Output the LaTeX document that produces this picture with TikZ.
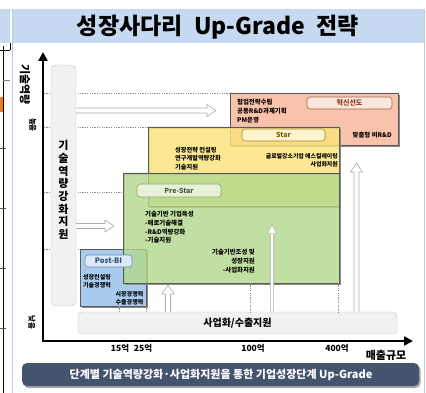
\documentclass[tikz,border=0pt]{standalone}
\usepackage{fontspec}
\setmainfont{Noto Sans CJK KR}
\usetikzlibrary{arrows.meta,calc}
\definecolor{titlebg}{HTML}{C6D9F1}
\definecolor{panelc}{HTML}{B9CDE8}
\definecolor{pinkc}{HTML}{F8C3AA}
\definecolor{yellowc}{HTML}{FCE27C}
\definecolor{greenc}{HTML}{B3D88C}
\definecolor{bluec}{HTML}{A8CBEE}
\definecolor{boxline}{HTML}{5A5A5A}
\definecolor{shadowc}{HTML}{8A8A8A}
\definecolor{barfill}{HTML}{F1F1F1}
\definecolor{barline}{HTML}{C8C8C8}
\definecolor{bannerc}{HTML}{44546E}
\definecolor{dashc}{HTML}{8F8F8F}
\definecolor{arrowc}{HTML}{ADADAD}
\definecolor{fragorange}{HTML}{F07820}
\definecolor{pinkpillf}{HTML}{FCE7DC}
\definecolor{pinkpilld}{HTML}{A0664A}
\definecolor{pinkpillt}{HTML}{8A3B1E}
\definecolor{starpillf}{HTML}{FDF3CC}
\definecolor{starpilld}{HTML}{A08A3A}
\definecolor{starpillt}{HTML}{7A5A12}
\definecolor{prepillf}{HTML}{E6F1D8}
\definecolor{prepilld}{HTML}{8AA870}
\definecolor{prepillt}{HTML}{4E5A44}
\definecolor{postpillf}{HTML}{DCEAF8}
\definecolor{postpilld}{HTML}{6D8FB8}
\definecolor{postpillt}{HTML}{2E4C78}

\newcommand{\mkbox}[6][]{%
  \fill[shadowc, even odd rule] (#3+1.8,#4+1.8) rectangle (#5+1.8,#6+1.8) (#3,#4) rectangle (#5,#6);
  \node[box, #1, minimum width={#5-#3}, minimum height={#6-#4}] (#2) at ({(#3+#5)/2},{(#4+#6)/2}) {};}
\newcommand{\harrow}[2]{\draw[hollow] ($(#1)+(0,-2.5)$) -- ($(#2)+(-9,-2.5)$) -- ($(#2)+(-9,-6)$) -- (#2) -- ($(#2)+(-9,6)$) -- ($(#2)+(-9,2.5)$) -- ($(#1)+(0,2.5)$);}
\newcommand{\varrow}[2]{\draw[hollow] ($(#1)+(-2.5,0)$) -- ($(#2)+(-2.5,9)$) -- ($(#2)+(-6,9)$) -- (#2) -- ($(#2)+(6,9)$) -- ($(#2)+(2.5,9)$) -- ($(#1)+(2.5,0)$);}

\tikzset{
  box/.style={draw=boxline, line width=0.8pt, inner sep=0pt, outer sep=0pt},
  pill/.style={rounded corners=3pt, line width=0.6pt, inner sep=0pt, font=\fontsize{7}{8}\selectfont\bfseries},
  txt/.style={inner sep=0pt, align=left},
  dashln/.style={draw=dashc, line width=0.5pt, dash pattern=on 1.2pt off 1.2pt},
  hollow/.style={draw=arrowc, fill=white, line width=0.6pt},
  axlab/.style={inner sep=0pt, font=\fontsize{8.5}{9}\selectfont\bfseries},
}

\begin{document}
\begin{tikzpicture}[x=1pt,y=-1pt]
\useasboundingbox (0,0) rectangle (426,393);
\fill[white] (0,0) rectangle (426,393);

% fragment of neighbouring slide
\fill[titlebg] (0,9) rectangle (10,43);
\draw[black, line width=0.7pt] (3,46) -- (3,393);
\draw[black, line width=0.6pt] (0,50) -- (10,50);
\draw[black, line width=0.6pt] (10,43) -- (10,50);
\draw[gray, line width=0.5pt] (3,80) -- (10,80);
\fill[fragorange] (0,97) rectangle (3,112);
\foreach \yy in {148,208,268,328} \draw[gray!70!black, line width=0.5pt] (0,\yy) -- (6,\yy);

% panel
\fill[titlebg] (12,9) rectangle (424,43);
\draw[panelc, line width=1pt] (12,9) -- (12,393);
\draw[panelc, line width=1pt] (424,9) -- (424,393);
\node[inner sep=0pt, font=\fontsize{23}{25}\selectfont\bfseries] (title) at (218,27) {성장사다리\hspace{0.5em}Up-Grade\hspace{0.5em}전략};

% guide lines
\draw[dashln] (44,93) -- (230,93);
\draw[dashln] (44,127) -- (148,127);
\draw[dashln] (44,192) -- (123,192);
\draw[dashln] (44,249) -- (80,249);

% left bar
\node[draw=barline, fill=barfill, rounded corners=5pt, minimum width=25pt, minimum height=241pt, inner sep=0pt] (lbar) at (63.5,185.5) {};
\node[txt, align=center, font=\fontsize{11}{12.7}\selectfont\bfseries] (lbartxt) at (63.5,190) {기\\술\\역\\량\\강\\화\\지\\원};

% bottom bar
\node[draw=barline, fill=barfill, rounded corners=4pt, minimum width=319pt, minimum height=22pt, inner sep=0pt] (bbar) at (237.5,323) {};
\node[inner sep=0pt, font=\fontsize{10}{11}\selectfont\bfseries] (bbartxt) at (237.5,323) {사업화/수출지원};

% boxes
\mkbox[fill=pinkc]{pink}{230}{93}{398}{145}
\mkbox[fill=yellowc, fill opacity=0.82]{yellow}{148}{127}{339}{206}
\mkbox[fill=bluec]{blue}{80}{249}{146}{306}
\mkbox[fill=greenc, fill opacity=0.8]{green}{123}{173}{339}{283}

% pills
\node[pill, draw=pinkpilld, fill=pinkpillf, text=pinkpillt, minimum width=85pt, minimum height=12pt] (pinkpill) at (349.5,103) {혁신선도};
\node[pill, draw=starpilld, fill=starpillf, text=starpillt, minimum width=83pt, minimum height=12pt] (starpill) at (283.5,135) {Star};
\node[pill, draw=prepilld, fill=prepillf, text=prepillt, minimum width=84pt, minimum height=13pt] (prepill) at (179,190.5) {Pre-Star};
\node[pill, draw=postpilld, fill=postpillf, text=postpillt, minimum width=47pt, minimum height=12pt, font=\fontsize{7.5}{8}\selectfont\bfseries] (postpill) at (108.5,261) {Post-BI};

% box texts
\node[txt, anchor=north west, font=\fontsize{6.4}{9.3}\selectfont\bfseries] (pinkl) at (237,98.5) {협업전략수립\\공동R\&D과제기획\\PM운영};
\node[txt, anchor=east, font=\fontsize{6.4}{8}\selectfont\bfseries] (pinkr) at (392,135) {맞춤형 비R\&D};
\node[txt, anchor=north west, font=\fontsize{6.2}{8.5}\selectfont\bfseries] (yell) at (175,147) {성장전략 컨설팅\\연구개발역량강화\\기술지원};
\node[txt, anchor=north east, align=right, font=\fontsize{5.9}{8.5}\selectfont\bfseries] (yelr) at (338,153) {글로벌강소기업 에스컬레이팅\\사업화지원};
\node[txt, anchor=north west, font=\fontsize{6.4}{8.7}\selectfont\bfseries] (grnl) at (145,211) {기술기반 기업육성\\-애로기술해결\\-R\&D역량강화\\-기술지원};
\node[txt, anchor=north east, align=right, font=\fontsize{6.4}{8.7}\selectfont\bfseries] (grnr) at (255,249) {기술기반조성 및\\성장지원\\-사업화지원};
\node[txt, anchor=north west, font=\fontsize{6}{8.5}\selectfont\bfseries] (blul) at (83,274) {성장컨설팅\\기술경쟁력};
\node[txt, anchor=north east, align=right, font=\fontsize{6}{8.3}\selectfont\bfseries] (blur) at (143.5,291) {시장경쟁력\\수출경쟁력};

% hollow arrows
\coordinate (h1e) at (216,110.5);
\coordinate (h1s) at (lbar.east |- h1e);
\harrow{h1s}{h1e}
\coordinate (h2e) at (114,226);
\coordinate (h2s) at (lbar.east |- h2e);
\harrow{h2s}{h2e}
\coordinate (v1e) at (168,285);
\coordinate (v1s) at (bbar.north -| v1e);
\varrow{v1s}{v1e}
\coordinate (v2e) at (356.5,163);
\coordinate (v2s) at (bbar.north -| v2e);
\varrow{v2s}{v2e}
\coordinate (w1e) at (272,225);
\coordinate (w1s) at (bbar.north -| w1e);
\draw[draw=arrowc, fill=white, line width=0.5pt] ($(w1s)+(-1.5,0)$) -- ($(w1e)+(-1.5,8)$) -- ($(w1e)+(-4.5,8)$) -- (w1e) -- ($(w1e)+(4.5,8)$) -- ($(w1e)+(1.5,8)$) -- ($(w1s)+(1.5,0)$);

% vertical guide dashes
\draw[dashln] (119,306) -- (119,312);
\draw[dashln] (146,306) -- (146,312);
\draw[dashln] (250,283) -- (250,312);
\draw[dashln] (338,283) -- (338,312);

% axes
\coordinate (origin) at (43,341);
\coordinate (ytip) at (43,52);
\coordinate (xtip) at (413,341);
\draw[line width=2.4pt, {Triangle[length=9pt,width=9pt]}-{Triangle[length=9pt,width=9pt]}] (ytip) -- (origin) -- (xtip);

\node[inner sep=0pt, rotate=-90, font=\fontsize{11}{12}\selectfont\bfseries] (ylab) at (25,84.5) {기술역량};
\node[inner sep=0pt, rotate=-90, font=\fontsize{7.5}{8}\selectfont\bfseries] (hi) at (33,125) {높음};
\node[inner sep=0pt, rotate=-90, font=\fontsize{7.5}{8}\selectfont\bfseries] (lo) at (32,322) {낮음};

\node[axlab] (x15) at (120,348) {15억};
\node[axlab] (x25) at (143,348) {25억};
\node[axlab] (x100) at (253,348) {100억};
\node[axlab] (x400) at (337,348) {400억};
\node[inner sep=0pt, font=\fontsize{11}{12}\selectfont\bfseries] (xlab) at (386,355) {매출규모};

% banner
\fill[gray!70, rounded corners=5pt] (23.5,365) rectangle (420.5,388);
\node[fill=bannerc, rounded corners=5pt, minimum width=397pt, minimum height=23pt, inner sep=0pt] (banner) at (220.5,374.5) {};
\node[inner sep=0pt, text=white, font=\fontsize{11}{12}\selectfont\bfseries] (bannertxt) at (221,374.5) {단계별 기술역량강화·사업화지원을 통한 기업성장단계 Up-Grade};
\end{tikzpicture}
\end{document}
